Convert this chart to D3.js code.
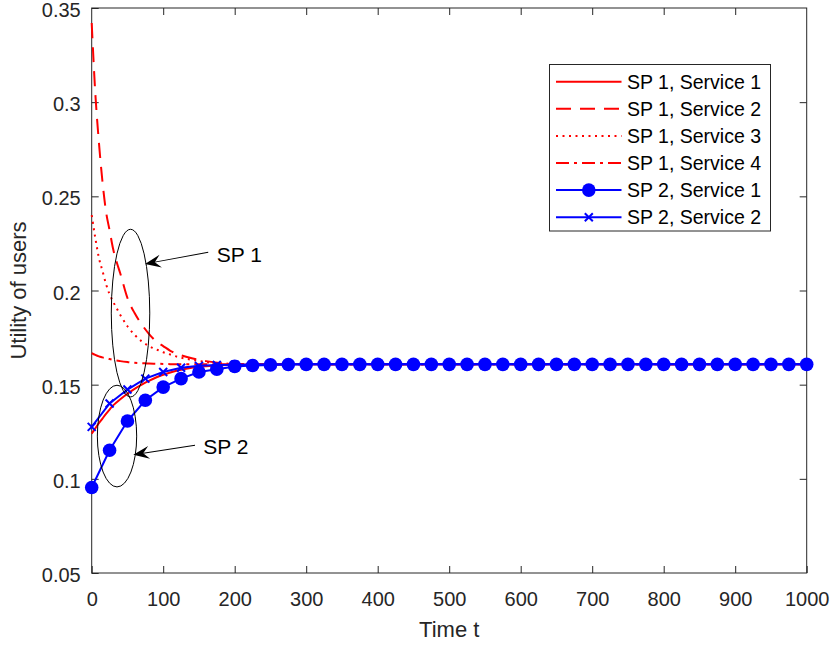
<!DOCTYPE html>
<html>
<head>
<meta charset="utf-8">
<script src="https://cdn.jsdelivr.net/npm/d3@7"></script>
<style>
  body { margin: 0; background: #fff; }
  svg { font-family: "Liberation Sans", Arial, sans-serif; }
</style>
</head>
<body>
<svg width="830" height="646"></svg>
<script>
// time grid of the marker series (one sample every 25 steps)
const tMarks = [0, 25, 50, 75, 100, 125, 150, 175, 200, 225, 250, 275, 300, 325, 350, 375, 400,
  425, 450, 475, 500, 525, 550, 575, 600, 625, 650, 675, 700, 725, 750, 775, 800, 825, 850,
  875, 900, 925, 950, 975, 1000];
// time grid of the smooth SP 1 curves
const tCurve = [0, 5, 10, 15, 20, 25, 30, 35, 40, 50, 60, 70, 80, 90, 100, 110, 120, 140, 160,
  180, 200, 250, 300, 400, 500, 600, 700, 800, 900, 1000];

const sp1s1 = [0.124, 0.1268, 0.1295, 0.132, 0.1345, 0.1368, 0.139, 0.1407, 0.1423, 0.1452,
  0.1478, 0.15, 0.152, 0.1538, 0.1553, 0.1565, 0.1575, 0.159, 0.1598, 0.1603, 0.1606, 0.1608,
  0.1608, 0.1608, 0.1608, 0.1608, 0.1608, 0.1608, 0.1608, 0.1608];
const sp1s2 = [0.342, 0.305, 0.279, 0.258, 0.242, 0.232, 0.222, 0.215, 0.209, 0.196, 0.188,
  0.182, 0.177, 0.173, 0.1705, 0.168, 0.1663, 0.164, 0.1625, 0.1615, 0.161, 0.1609, 0.1608,
  0.1608, 0.1608, 0.1608, 0.1608, 0.1608, 0.1608, 0.1608];
const sp1s3 = [0.240, 0.228, 0.2175, 0.2105, 0.2035, 0.198, 0.194, 0.1905, 0.187, 0.181,
  0.1765, 0.173, 0.1705, 0.1688, 0.1672, 0.166, 0.1648, 0.1632, 0.162, 0.1614, 0.161, 0.1609,
  0.1608, 0.1608, 0.1608, 0.1608, 0.1608, 0.1608, 0.1608, 0.1608];
const sp1s4 = [0.1668, 0.1658, 0.165, 0.1645, 0.1641, 0.1636, 0.1632, 0.1628, 0.1625, 0.162,
  0.1616, 0.1614, 0.1612, 0.1611, 0.161, 0.1609, 0.1609, 0.1608, 0.1608, 0.1608, 0.1608, 0.1608,
  0.1608, 0.1608, 0.1608, 0.1608, 0.1608, 0.1608, 0.1608, 0.1608];

const sp2s1 = [0.0954, 0.1152, 0.1307, 0.1417, 0.1487, 0.1532, 0.1567, 0.1582, 0.1597, 0.1602,
  0.1605, 0.1607, 0.1608, 0.1608, 0.1608, 0.1608, 0.1608, 0.1608, 0.1608, 0.1608, 0.1608,
  0.1608, 0.1608, 0.1608, 0.1608, 0.1608, 0.1608, 0.1608, 0.1608, 0.1608, 0.1608, 0.1608,
  0.1608, 0.1608, 0.1608, 0.1608, 0.1608, 0.1608, 0.1608, 0.1608, 0.1608];
const sp2s2 = [0.1276, 0.1400, 0.1474, 0.1532, 0.1567, 0.1590, 0.1600, 0.1604, 0.1606, 0.1607,
  0.1608, 0.1608, 0.1608, 0.1608, 0.1608, 0.1608, 0.1608, 0.1608, 0.1608, 0.1608, 0.1608,
  0.1608, 0.1608, 0.1608, 0.1608, 0.1608, 0.1608, 0.1608, 0.1608, 0.1608, 0.1608, 0.1608,
  0.1608, 0.1608, 0.1608, 0.1608, 0.1608, 0.1608, 0.1608, 0.1608, 0.1608];

const xTicks = [0, 100, 200, 300, 400, 500, 600, 700, 800, 900, 1000];
const xTickLabels = ['0', '100', '200', '300', '400', '500', '600', '700', '800', '900', '1000'];
const yTicks = [0.05, 0.1, 0.15, 0.2, 0.25, 0.3, 0.35];
const yTickLabels = ['0.05', '0.1', '0.15', '0.2', '0.25', '0.3', '0.35'];

const legendLabels = ['SP 1, Service 1', 'SP 1, Service 2', 'SP 1, Service 3', 'SP 1, Service 4',
  'SP 2, Service 1', 'SP 2, Service 2'];

const svg = d3.select('svg');
const mLeft = 91.7, mRight = 806.7, mTop = 8, mBottom = 573;

const x = d3.scaleLinear().domain([0, 1000]).range([mLeft, mRight]);
const y = d3.scaleLinear().domain([0.05, 0.35]).range([mBottom, mTop]);

const axisColor = '#262626';

// box + inward ticks on all four sides
function styleAxis(g) {
  g.select('.domain').remove();
  g.selectAll('line').attr('stroke', axisColor).attr('stroke-width', 1);
  g.selectAll('text').attr('fill', axisColor).attr('font-size', 20);
}
svg.append('g').attr('transform', `translate(0,${mBottom})`)
  .call(d3.axisBottom(x).tickValues(xTicks).tickSizeInner(-7).tickPadding(19)
    .tickFormat((d, i) => xTickLabels[i]))
  .call(styleAxis);
svg.append('g').attr('transform', `translate(0,${mTop})`)
  .call(d3.axisTop(x).tickValues(xTicks.slice(1, -1)).tickSizeInner(-7).tickFormat(''))
  .call(styleAxis);
svg.append('g').attr('transform', `translate(${mLeft},0)`)
  .call(d3.axisLeft(y).tickValues(yTicks).tickSizeInner(-7).tickPadding(11)
    .tickFormat((d, i) => yTickLabels[i]))
  .call(styleAxis)
  .call(g => g.selectAll('text').attr('dy', '0.43em'));
svg.append('g').attr('transform', `translate(${mRight},0)`)
  .call(d3.axisRight(y).tickValues(yTicks.slice(1, -1)).tickSizeInner(-7).tickFormat(''))
  .call(styleAxis);

svg.append('rect').attr('x', mLeft).attr('y', mTop)
  .attr('width', mRight - mLeft).attr('height', mBottom - mTop)
  .attr('fill', 'none').attr('stroke', axisColor).attr('stroke-width', 1);

// axis labels
svg.append('text').attr('x', (mLeft + mRight) / 2).attr('y', 637)
  .attr('text-anchor', 'middle').attr('font-size', 22).attr('fill', axisColor).text('Time t');
svg.append('text').attr('transform', `translate(26,${(mTop + mBottom) / 2}) rotate(-90)`)
  .attr('text-anchor', 'middle').attr('font-size', 22).attr('fill', axisColor)
  .text('Utility of users');

const plot = svg.append('g');

const red = '#ff0000', blue = '#0000ff';
const styles = [
  { color: red, dash: null },
  { color: red, dash: '15,9' },
  { color: red, dash: '2,4.5' },
  { color: red, dash: '13,5,3,5' },
  { color: blue, dash: null, marker: 'circle' },
  { color: blue, dash: null, marker: 'cross' }
];

const curveLine = d3.line().x(d => x(d[0])).y(d => y(d[1])).curve(d3.curveMonotoneX);
const polyLine = d3.line().x(d => x(d[0])).y(d => y(d[1]));

[sp1s1, sp1s2, sp1s3, sp1s4].forEach((vals, k) => {
  plot.append('path')
    .datum(tCurve.map((t, i) => [t, vals[i]]))
    .attr('d', curveLine)
    .attr('fill', 'none')
    .attr('stroke', styles[k].color)
    .attr('stroke-width', 2)
    .attr('stroke-dasharray', styles[k].dash);
});

function drawMarker(g, type, cx, cy, color) {
  if (type === 'circle') {
    g.append('circle').attr('cx', cx).attr('cy', cy).attr('r', 6.8).attr('fill', color);
  } else if (type === 'cross') {
    const s = 4;
    g.append('path')
      .attr('d', `M${cx - s},${cy - s}L${cx + s},${cy + s}M${cx - s},${cy + s}L${cx + s},${cy - s}`)
      .attr('stroke', color).attr('stroke-width', 2).attr('fill', 'none');
  }
}

[sp2s1, sp2s2].forEach((vals, k) => {
  const st = styles[4 + k];
  const pts = tMarks.map((t, i) => [t, vals[i]]);
  plot.append('path').datum(pts).attr('d', polyLine)
    .attr('fill', 'none').attr('stroke', st.color).attr('stroke-width', 2);
  pts.forEach(p => drawMarker(plot, st.marker, x(p[0]), y(p[1]), st.color));
});

// annotations: ellipses and arrows in data units
const notes = [
  { label: 'SP 1', ct: 54.3, cv: 0.188, rt: 26.9, rv: 0.0445,
    from: [163, 0.2203], to: [74.5, 0.2141], text: [174.8, 0.215] },
  { label: 'SP 2', ct: 35.4, cv: 0.1227, rt: 27.5, rv: 0.027,
    from: [144.5, 0.1178], to: [58.2, 0.1128], text: [156, 0.1134] }
];
const ann = svg.append('g');
notes.forEach(n => {
  ann.append('ellipse')
    .attr('cx', x(n.ct)).attr('cy', y(n.cv))
    .attr('rx', x(n.rt) - x(0)).attr('ry', y(0.05) - y(0.05 + n.rv))
    .attr('fill', 'none').attr('stroke', '#000').attr('stroke-width', 1);
  const x1 = x(n.from[0]), y1 = y(n.from[1]), x2 = x(n.to[0]), y2 = y(n.to[1]);
  const ang = Math.atan2(y2 - y1, x2 - x1) * 180 / Math.PI;
  const len = Math.hypot(x2 - x1, y2 - y1);
  const a = ann.append('g').attr('transform', `translate(${x2},${y2}) rotate(${ang})`);
  a.append('line').attr('x1', -len).attr('y1', 0).attr('x2', -10).attr('y2', 0)
    .attr('stroke', '#000').attr('stroke-width', 1);
  a.append('path').attr('d', 'M0,0L-16,-6.5L-10,0L-16,6.5Z').attr('fill', '#000');
  ann.append('text').attr('x', x(n.text[0])).attr('y', y(n.text[1]))
    .attr('font-size', 21).attr('fill', '#000').text(n.label);
});

// legend
const lg = svg.append('g').attr('transform', 'translate(549.5,64.5)');
lg.append('rect').attr('width', 221).attr('height', 166.5)
  .attr('fill', '#fff').attr('stroke', axisColor).attr('stroke-width', 1);
legendLabels.forEach((lab, i) => {
  const cy = 17.2 + i * 27.1;
  const st = styles[i];
  lg.append('line').attr('x1', 6.5).attr('x2', 72).attr('y1', cy).attr('y2', cy)
    .attr('stroke', st.color).attr('stroke-width', 2).attr('stroke-dasharray', st.dash);
  if (st.marker) drawMarker(lg, st.marker, 39.3, cy, st.color);
  lg.append('text').attr('x', 77.5).attr('y', cy + 7).attr('font-size', 19.5)
    .attr('fill', '#000').text(lab);
});
</script>
</body>
</html>
